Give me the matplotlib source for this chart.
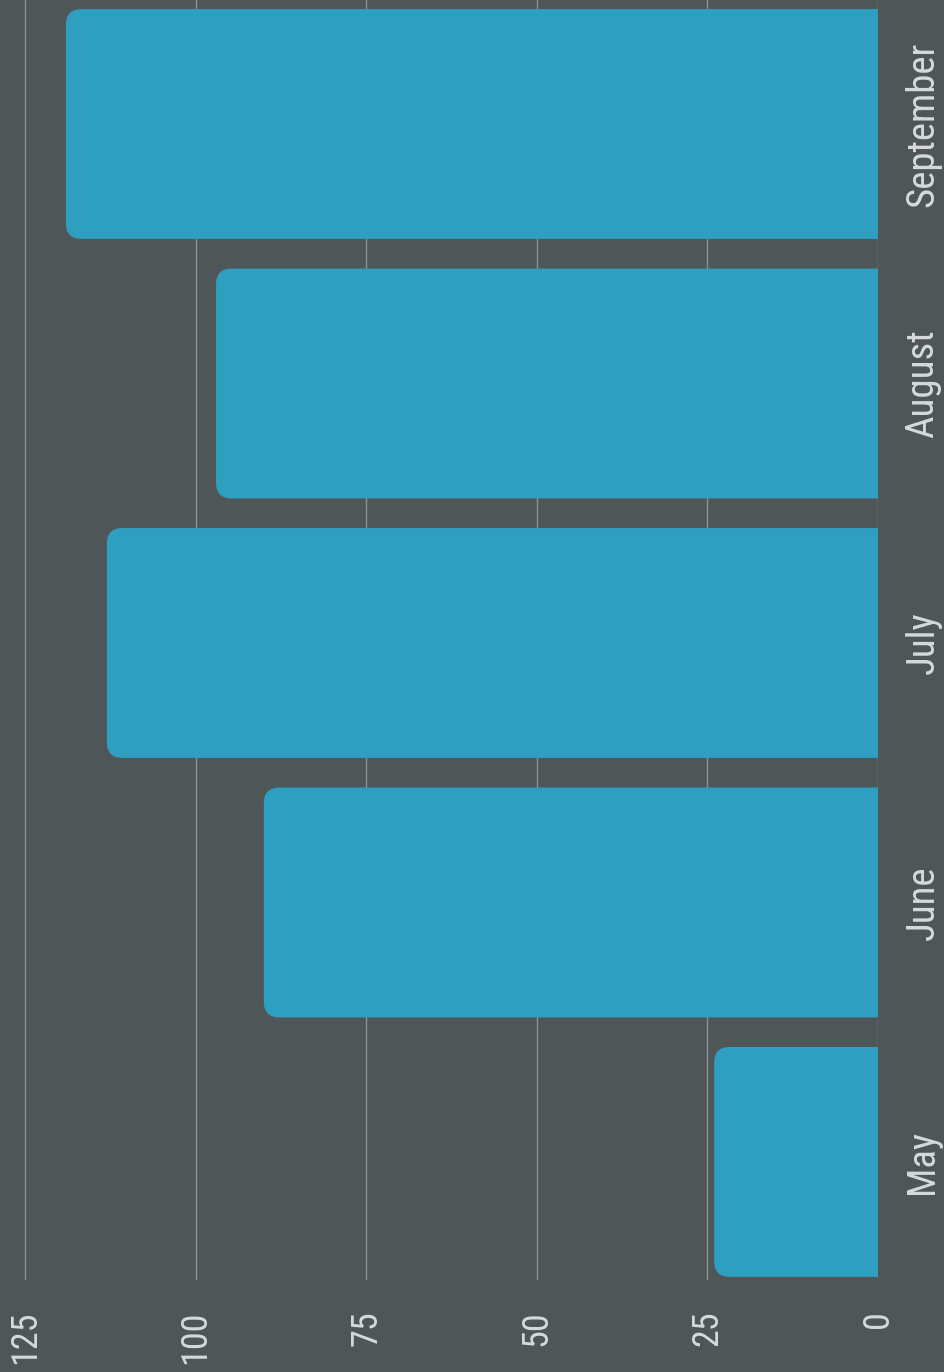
import matplotlib
matplotlib.use("Agg")
from matplotlib import pyplot as plt
from matplotlib.patches import FancyBboxPatch

months = ["May", "June", "July", "August", "September"]
values = [24, 90, 113, 97, 119]
value_ticks = [0, 25, 50, 75, 100, 125]

bg = "#4f5658"
bar_c = "#2e9ec1"
txt_c = "#d6dadb"
grid_c = "#8c9294"

plt.rcParams["font.family"] = ["Roboto Condensed", "Liberation Sans Narrow", "Roboto", "DejaVu Sans"]

fig = plt.figure(figsize=(9.45, 13.72), dpi=100, facecolor=bg)
ax = fig.add_axes([0, (1372 - 1280) / 1372, 878 / 945, 1280 / 1372])
ax.set_facecolor(bg)

pos = list(range(len(months)))
bars = ax.barh(pos, values, height=0.886, color=bar_c, zorder=2)

# swap the plain rectangles for ones with rounded ends (right end gets clipped at 0)
rx = 2.3
ry = 0.06
for b in bars:
    b.set_visible(False)
    x0, y0 = b.get_x(), b.get_y()
    w, h = b.get_width(), b.get_height()
    p = FancyBboxPatch((x0 - 5, y0), w + 5, h,
                       boxstyle="round,pad=0,rounding_size=%s" % rx,
                       mutation_aspect=ry / rx,
                       fc=bar_c, ec="none", zorder=2)
    ax.add_patch(p)

ax.set_xlim(128.66, 0)
ax.set_ylim(-0.455, 4.478)

ax.set_xticks(value_ticks)
ax.set_xticklabels([str(v) for v in value_ticks], rotation=90, color=txt_c, fontsize=26)
ax.set_yticks(pos)
ax.set_yticklabels(months, rotation=90, color=txt_c, fontsize=28, va="center")
ax.yaxis.tick_right()
ax.tick_params(axis="x", length=0, pad=22)
ax.tick_params(axis="y", length=0, pad=19)

ax.grid(axis="x", color=grid_c, linewidth=1.0, zorder=1)
ax.set_axisbelow(True)
for s in ax.spines.values():
    s.set_visible(False)

fig.savefig("out.png", dpi=100, facecolor=bg)
